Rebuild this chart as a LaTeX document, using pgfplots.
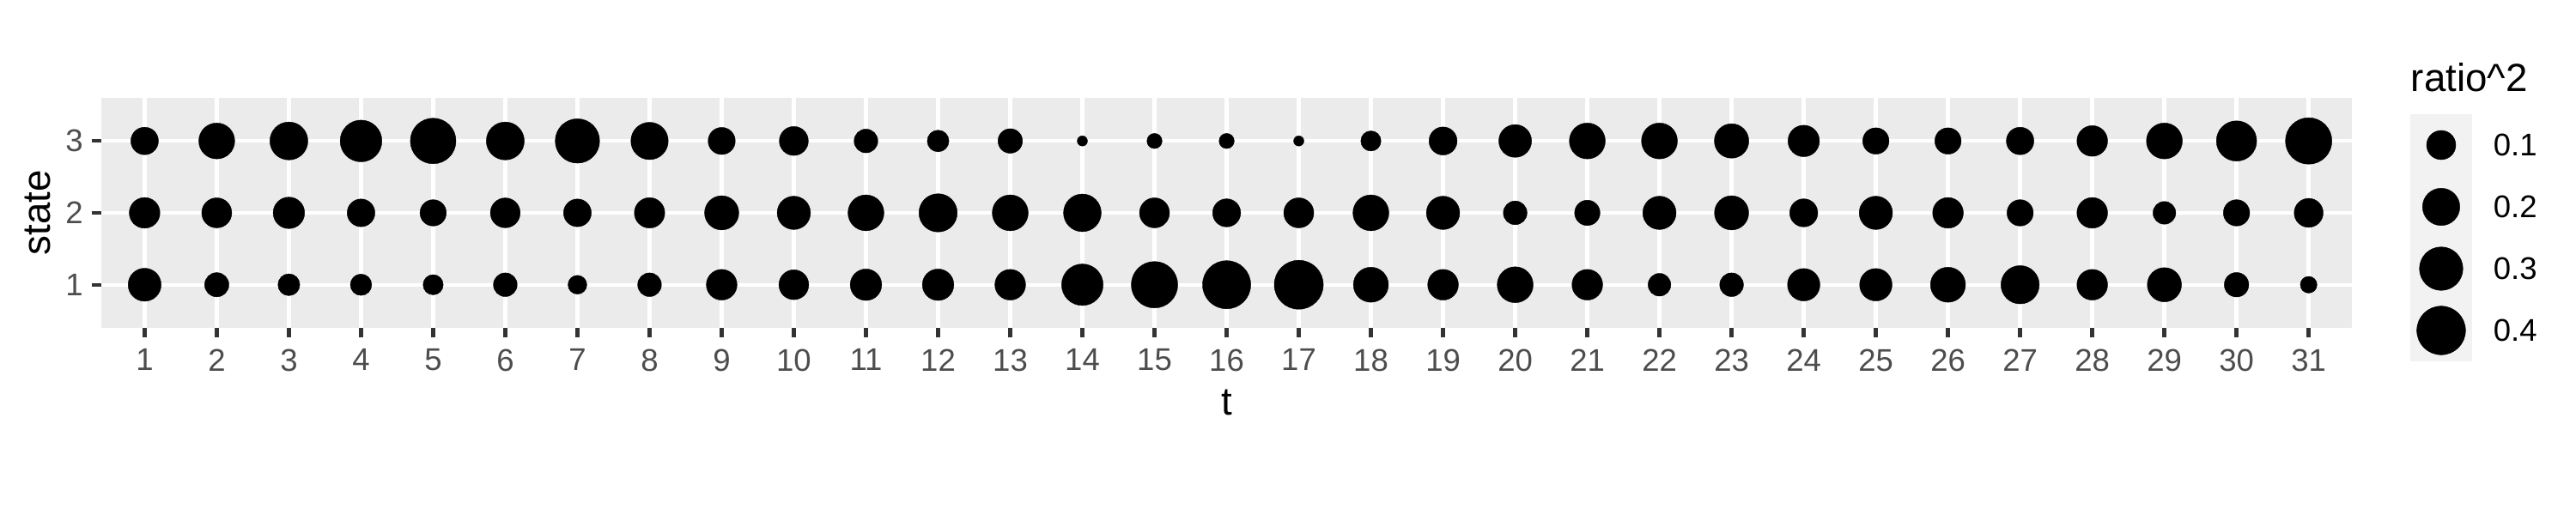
\documentclass[border=0pt]{standalone}
\usepackage{pgfplots}
\pgfplotsset{compat=1.18}
\usepackage{pgfplotstable}
\usepackage{fontspec}
\setmainfont{Liberation Sans}
\definecolor{panelgrey}{HTML}{EBEBEB}
\definecolor{keygrey}{HTML}{F2F2F2}
\definecolor{ticklab}{HTML}{4D4D4D}
\definecolor{tickcol}{HTML}{333333}

\pgfplotstableread{
t s v
1 3 0.084
1 2 0.116
1 1 0.143
2 3 0.181
2 2 0.109
2 1 0.056
3 3 0.210
3 2 0.125
3 1 0.039
4 3 0.270
4 2 0.086
4 1 0.036
5 3 0.339
5 2 0.073
5 1 0.029
6 3 0.210
6 2 0.107
6 1 0.052
7 3 0.316
7 2 0.086
7 1 0.022
8 3 0.201
8 2 0.113
8 1 0.052
9 3 0.080
9 2 0.158
9 1 0.116
10 3 0.098
10 2 0.147
10 1 0.107
11 3 0.052
11 2 0.181
11 1 0.125
12 3 0.038
12 2 0.215
12 1 0.125
13 3 0.058
13 2 0.181
13 1 0.116
14 3 0.0001
14 2 0.206
14 1 0.266
15 3 0.008
15 2 0.109
15 1 0.355
16 3 0.008
16 2 0.089
16 1 0.389
17 3 0.0001
17 2 0.109
17 1 0.406
18 3 0.029
18 2 0.181
18 1 0.169
19 3 0.089
19 2 0.147
19 1 0.116
20 3 0.140
20 2 0.052
20 1 0.181
21 3 0.181
21 2 0.065
21 1 0.116
22 3 0.181
22 2 0.147
22 1 0.045
23 3 0.161
23 2 0.158
23 1 0.052
24 3 0.125
24 2 0.089
24 1 0.136
25 3 0.073
25 2 0.147
25 1 0.136
26 3 0.073
26 2 0.116
26 1 0.169
27 3 0.084
27 2 0.073
27 1 0.215
28 3 0.116
28 2 0.116
28 1 0.116
29 3 0.181
29 2 0.045
29 1 0.158
30 3 0.246
30 2 0.073
30 1 0.058
31 3 0.355
31 2 0.098
31 1 0.013
}\bubbles

\pgfplotstableread{
x y v
0.5 3.5 0.1
0.5 2.5 0.2
0.5 1.5 0.3
0.5 0.5 0.4
}\legtab

\pgfplotsset{
  bubble/.style={
    only marks, mark=*, scatter, point meta=0,
    scatter/use mapped color={draw=black, fill=black},
    line width=0.1pt,
    visualization depends on={1.349+8.672*sqrt(\thisrow{v}) \as \rad},
    scatter/@pre marker code/.append style={/tikz/mark size=\rad},
  }
}

\begin{document}
\begin{tikzpicture}
\useasboundingbox (0,0) rectangle (722.7pt,144.54pt);
\begin{axis}[
  at={(28.43pt,52.52pt)}, anchor=south west,
  scale only axis, width=631.4pt, height=64.56pt,
  xmin=0.4, xmax=31.6, ymin=0.4, ymax=3.6,
  xtick={1,...,31}, ytick={1,2,3},
  axis background/.style={fill=panelgrey},
  axis line style={draw=none},
  grid=major,
  major grid style={white, line width=1.07pt},
  tick align=outside, major tick length=2.75pt,
  xtick pos=bottom, ytick pos=left,
  tick style={tickcol, line width=1.07pt},
  /pgf/number format/assume math mode=true,
  ticklabel style={font=\fontsize{8.8}{10}\selectfont, text=ticklab, inner sep=0pt},
  xticklabel style={anchor=north, yshift=-3.03pt},
  yticklabel style={anchor=east, xshift=-2.2pt},
  xlabel={t}, ylabel={state},
  label style={font=\fontsize{11}{13}\selectfont, text=black, inner sep=0pt},
  xlabel style={at={(axis description cs:0.5,0)}, anchor=base, yshift=-24.57pt},
  ylabel style={at={(axis description cs:0,0.5)}, anchor=base, yshift=14.45pt},
  clip=false,
]
\addplot[bubble] table[x=t, y=s] {\bubbles};
\end{axis}

\begin{axis}[
  at={(676.2pt,43.12pt)}, anchor=south west,
  scale only axis, width=17.34pt, height=69.38pt,
  xmin=0, xmax=1, ymin=0, ymax=4,
  axis background/.style={fill=keygrey},
  axis line style={draw=none},
  xtick=\empty,
  ytick={0.5,1.5,2.5,3.5},
  yticklabels={0.4,0.3,0.2,0.1},
  yticklabel pos=right, ytick pos=right,
  major tick length=0pt,
  tick style={draw=none},
  ticklabel style={font=\fontsize{8.8}{10}\selectfont, text=black, inner sep=0pt},
  yticklabel style={anchor=west, xshift=5.78pt},
  title={ratio\textasciicircum 2},
  title style={at={(axis description cs:0,1)}, anchor=base west, yshift=0.3pt, inner sep=0pt, font=\fontsize{11}{13}\selectfont},
  clip=false,
]
\addplot[bubble] table[x=x, y=y] {\legtab};
\end{axis}
\end{tikzpicture}
\end{document}
